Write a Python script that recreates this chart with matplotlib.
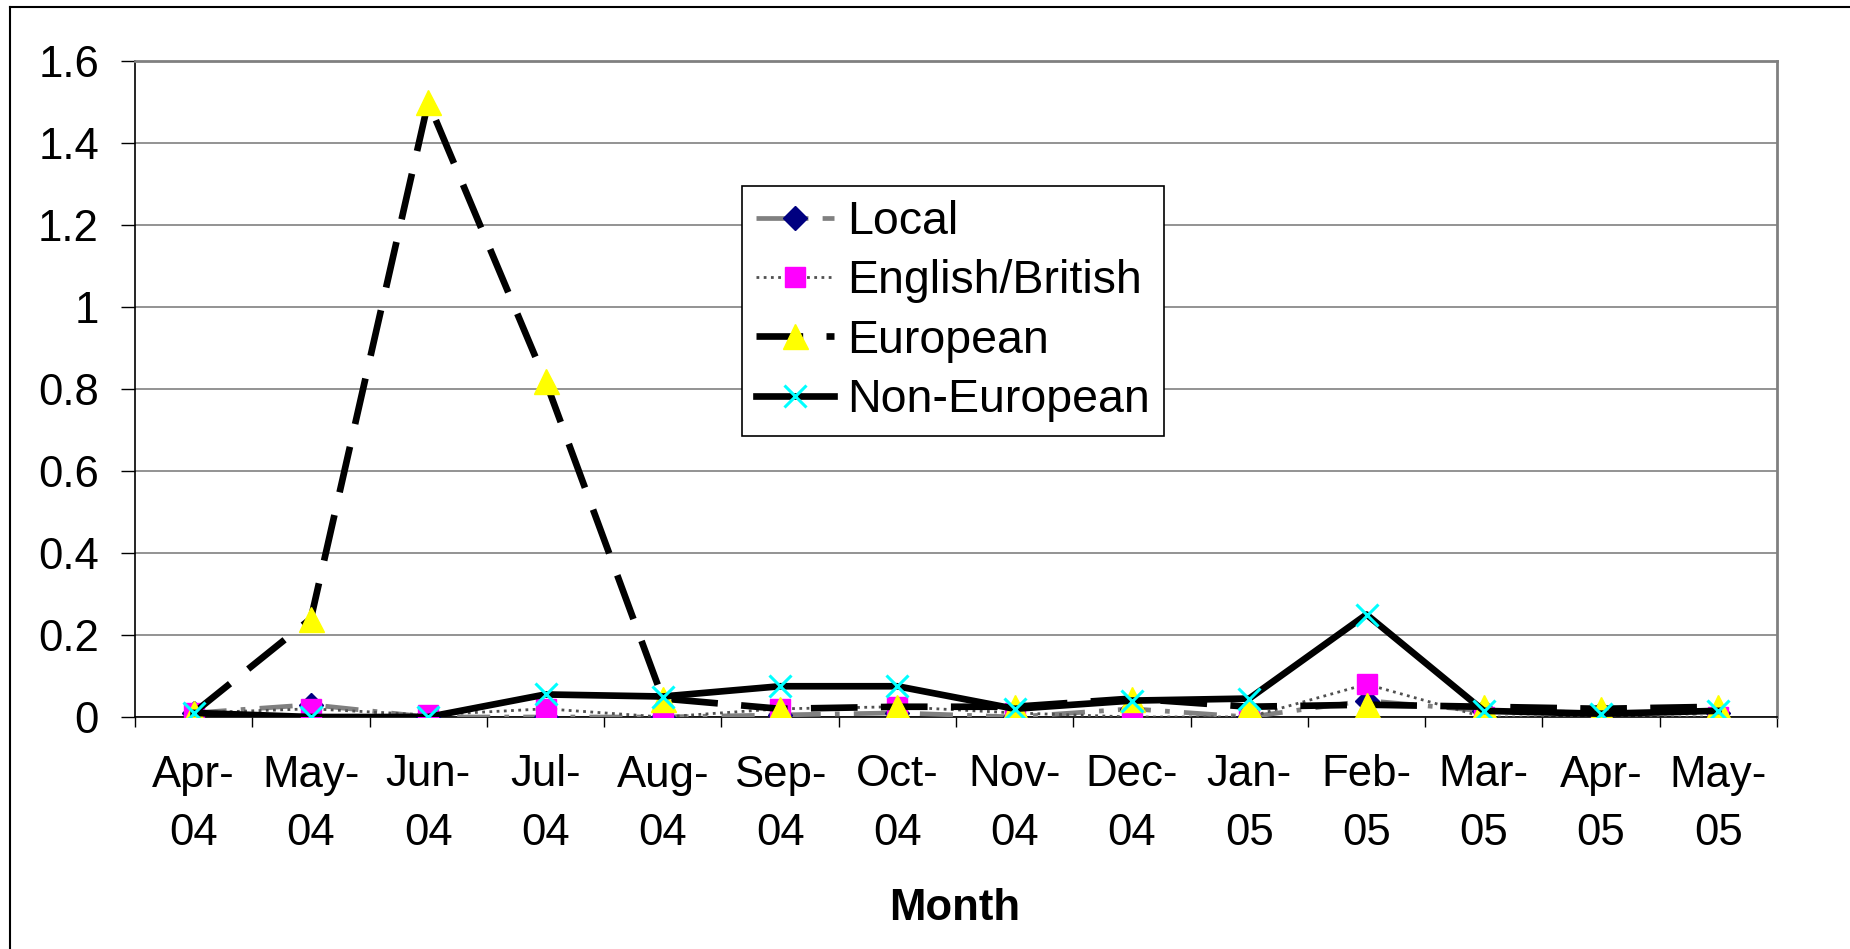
import matplotlib
matplotlib.use("Agg")
import matplotlib.pyplot as plt
from matplotlib.lines import Line2D
import numpy as np

months = ['Apr-\n04', 'May-\n04', 'Jun-\n04', 'Jul-\n04', 'Aug-\n04', 'Sep-\n04', 'Oct-\n04',
          'Nov-\n04', 'Dec-\n04', 'Jan-\n05', 'Feb-\n05', 'Mar-\n05', 'Apr-\n05', 'May-\n05']
local = [0.01, 0.03, 0.0, 0.0, 0.0, 0.005, 0.01, 0.0, 0.02, 0.0, 0.04, 0.015, 0.01, 0.01]
english = [0.01, 0.02, 0.005, 0.02, 0.0, 0.02, 0.025, 0.01, 0.0, 0.0, 0.08, 0.0, 0.0, 0.0]
european = [0.01, 0.24, 1.5, 0.82, 0.045, 0.02, 0.025, 0.025, 0.045, 0.025, 0.03, 0.025, 0.02, 0.025]
non_european = [0.01, 0.0, 0.0, 0.055, 0.05, 0.075, 0.075, 0.02, 0.04, 0.045, 0.25, 0.015, 0.008, 0.015]
yticks = [0, 0.2, 0.4, 0.6, 0.8, 1.0, 1.2, 1.4, 1.6]
ytick_labels = ['0', '0.2', '0.4', '0.6', '0.8', '1', '1.2', '1.4', '1.6']

plt.rcParams['font.family'] = ['Liberation Sans', 'DejaVu Sans']
FS = 31.5
LFS = 33.5

W, H = 1850, 949
fig = plt.figure(figsize=(W / 100, H / 100), dpi=100)
ax = fig.add_axes([135 / W, 1 - 717 / H, (1777 - 135) / W, (717 - 61) / H])

x = np.arange(len(months))

l1, = ax.plot(x, local, color='#808080', lw=3.4, linestyle=(0, (7, 3, 1, 3)),
              marker='D', markersize=12, markerfacecolor='#000080', markeredgecolor='#000080',
              label='Local', zorder=3)
l2, = ax.plot(x, english, color='#505050', lw=2.0, linestyle=(0, (1, 1.6)),
              marker='s', markersize=15, markerfacecolor='#FF00FF', markeredgecolor='#FF00FF',
              label='English/British', zorder=4)
l3, = ax.plot(x, european, color='black', lw=4.8, linestyle=(0, (7, 3.5)),
              marker='^', markersize=18, markerfacecolor='#FFFF00', markeredgecolor='#FFFF00',
              label='European', zorder=5)
l4, = ax.plot(x, non_european, color='black', lw=4.8, linestyle='-',
              marker='x', markersize=16, markeredgewidth=2.2, markeredgecolor='#00FFFF',
              label='Non-European', zorder=6)

ax.set_xlim(-0.5, len(months) - 0.5)
ax.set_ylim(0, 1.6)
ax.set_yticks(yticks)
ax.set_yticklabels(ytick_labels, fontsize=FS)
ax.set_xticks(x)
ax.set_xticklabels(months, fontsize=FS, linespacing=1.55)
ax.set_xticks(np.arange(-0.5, len(months), 1.0), minor=True)
ax.tick_params(axis='x', which='major', length=0, pad=27)
ax.tick_params(axis='x', which='minor', length=7.5, width=1, color='black', direction='out')
ax.tick_params(axis='y', which='major', length=10, width=1, color='black', direction='out', pad=16)

ax.yaxis.grid(True, color='#808080', lw=1.2)
ax.set_axisbelow(True)
for s in ['top', 'right']:
    ax.spines[s].set_color('#808080')
    ax.spines[s].set_linewidth(2)
ax.spines['left'].set_color('black')
ax.spines['left'].set_linewidth(1.2)
ax.spines['bottom'].set_color('black')
ax.spines['bottom'].set_linewidth(1.2)

fig.text(955 / W, 1 - 920 / H, 'Month', fontsize=FS, fontweight='bold',
         ha='center', va='baseline')

leg = ax.legend(handles=[l1, l2, l3, l4], loc='upper left',
                bbox_to_anchor=(742 / W, 1 - 186 / H), bbox_transform=fig.transFigure,
                borderaxespad=0, fontsize=LFS, frameon=True, fancybox=False,
                edgecolor='black', framealpha=1, handlelength=1.68, handletextpad=0.28,
                labelspacing=0.33, borderpad=0.3)
leg.get_frame().set_linewidth(1.2)
leg.set_zorder(10)

# outer chart-area frame (top and left edges visible)
fig.add_artist(Line2D([10 / W, 1.0], [1 - 7 / H, 1 - 7 / H], transform=fig.transFigure,
                      color='black', lw=1.5))
fig.add_artist(Line2D([10 / W, 10 / W], [0.0, 1 - 7 / H], transform=fig.transFigure,
                      color='black', lw=1.5))

fig.savefig('out.png', dpi=100)
